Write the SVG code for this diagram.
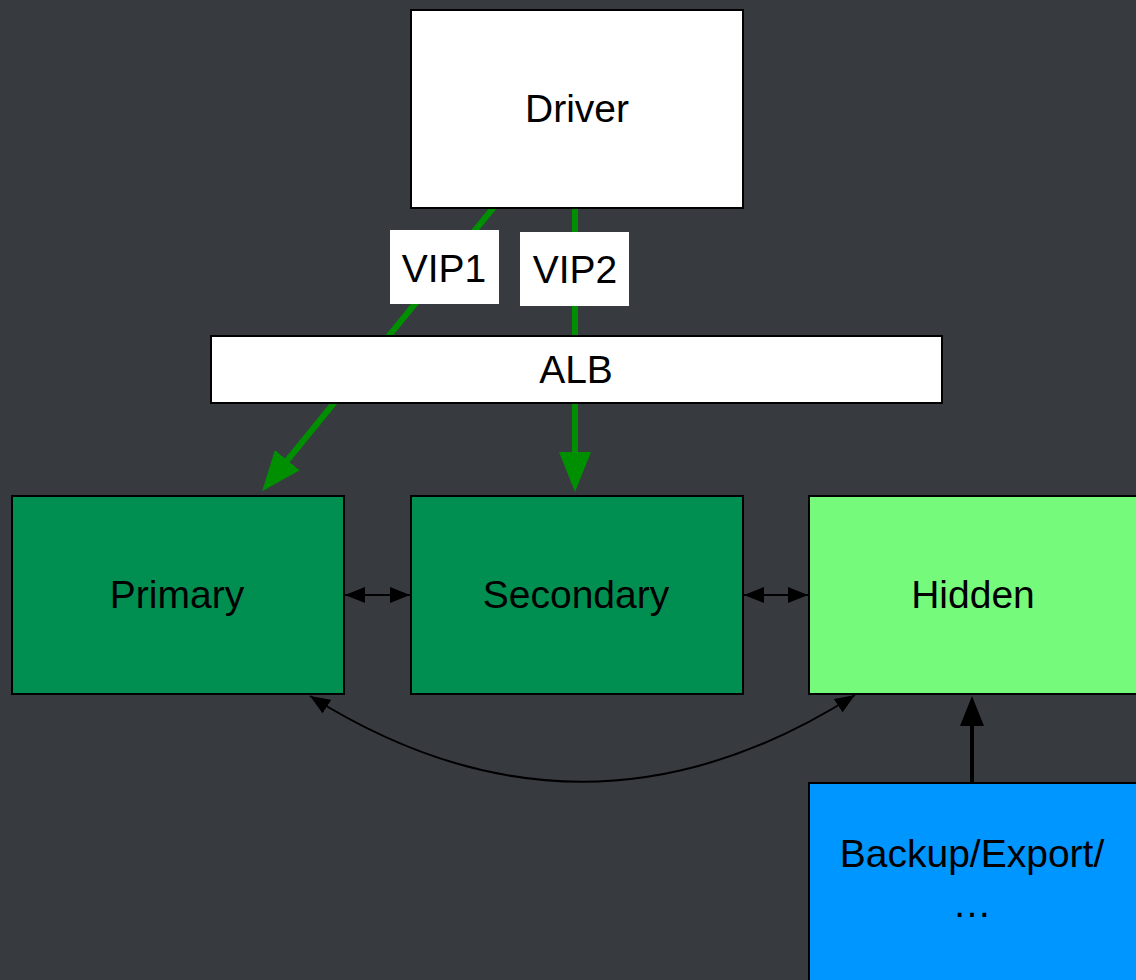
<svg xmlns="http://www.w3.org/2000/svg" width="1136" height="980" viewBox="0 0 1136 980">
<style>
.box{stroke:#000;stroke-width:2}
.t{font-family:"Liberation Sans",Arial,sans-serif;font-size:39px;fill:#000;text-anchor:middle}
.g{stroke:#008f00;stroke-width:6;fill:none;stroke-linecap:round}
.k{stroke:#000;fill:none}
</style>
<defs>
<marker id="ga" viewBox="0 0 40 32" refX="10" refY="16" markerWidth="40" markerHeight="32" markerUnits="userSpaceOnUse" orient="auto"><path d="M0,0L40,16L0,32z" fill="#008f00"/></marker>
<marker id="ka" viewBox="0 0 30 24" refX="20" refY="12" markerWidth="30" markerHeight="24" markerUnits="userSpaceOnUse" orient="auto"><path d="M0,0L30,12L0,24z" fill="#000"/></marker>
<marker id="ks" viewBox="0 0 20 16" refX="20" refY="8" markerWidth="20" markerHeight="16" markerUnits="userSpaceOnUse" orient="auto"><path d="M0,0L20,8L0,16z" fill="#000"/></marker>
<marker id="kss" viewBox="0 0 20 16" refX="0" refY="8" markerWidth="20" markerHeight="16" markerUnits="userSpaceOnUse" orient="auto"><path d="M20,0L0,8L20,16z" fill="#000"/></marker>
</defs>
<rect width="1136" height="980" fill="#373b40"/>
<g id="connectors">
<line class="g" x1="494" y1="207" x2="281" y2="468" marker-end="url(#ga)"/>
<line class="g" x1="575" y1="207" x2="575" y2="462" marker-end="url(#ga)"/>
<line class="k" stroke-width="2" x1="345" y1="595" x2="410" y2="595" marker-start="url(#kss)" marker-end="url(#ks)"/>
<line class="k" stroke-width="2" x1="744" y1="595" x2="808" y2="595" marker-start="url(#kss)" marker-end="url(#ks)"/>
<path class="k" stroke-width="2" d="M310,696 Q583,868 855,695" marker-start="url(#kss)" marker-end="url(#ks)"/>
<line class="k" stroke-width="4" x1="972" y1="783" x2="972" y2="706" marker-end="url(#ka)"/>
</g>
<g id="driver"><rect class="box" x="411" y="10" width="332" height="198" fill="#fff"/><text class="t" x="577" y="122">Driver</text></g>
<g id="vip1"><rect x="390" y="230" width="109" height="74" fill="#fff"/><text class="t" x="444" y="282">VIP1</text></g>
<g id="vip2"><rect x="520" y="232" width="109" height="74" fill="#fff"/><text class="t" x="575" y="283">VIP2</text></g>
<g id="alb"><rect class="box" x="211" y="336" width="731" height="67" fill="#fff"/><text class="t" x="576" y="383">ALB</text></g>
<g id="primary"><rect class="box" x="12" y="496" width="332" height="198" fill="#008f50"/><text class="t" x="177" y="608">Primary</text></g>
<g id="secondary"><rect class="box" x="411" y="496" width="332" height="198" fill="#008f50"/><text class="t" x="576" y="608">Secondary</text></g>
<g id="hidden"><rect class="box" x="809" y="496" width="332" height="198" fill="#76fa7b"/><text class="t" x="973" y="608">Hidden</text></g>
<g id="backup"><rect class="box" x="809" y="783" width="332" height="210" fill="#0096ff"/><text class="t" x="972" y="867">Backup/Export/</text><text class="t" x="972" y="917">…</text></g>
</svg>
